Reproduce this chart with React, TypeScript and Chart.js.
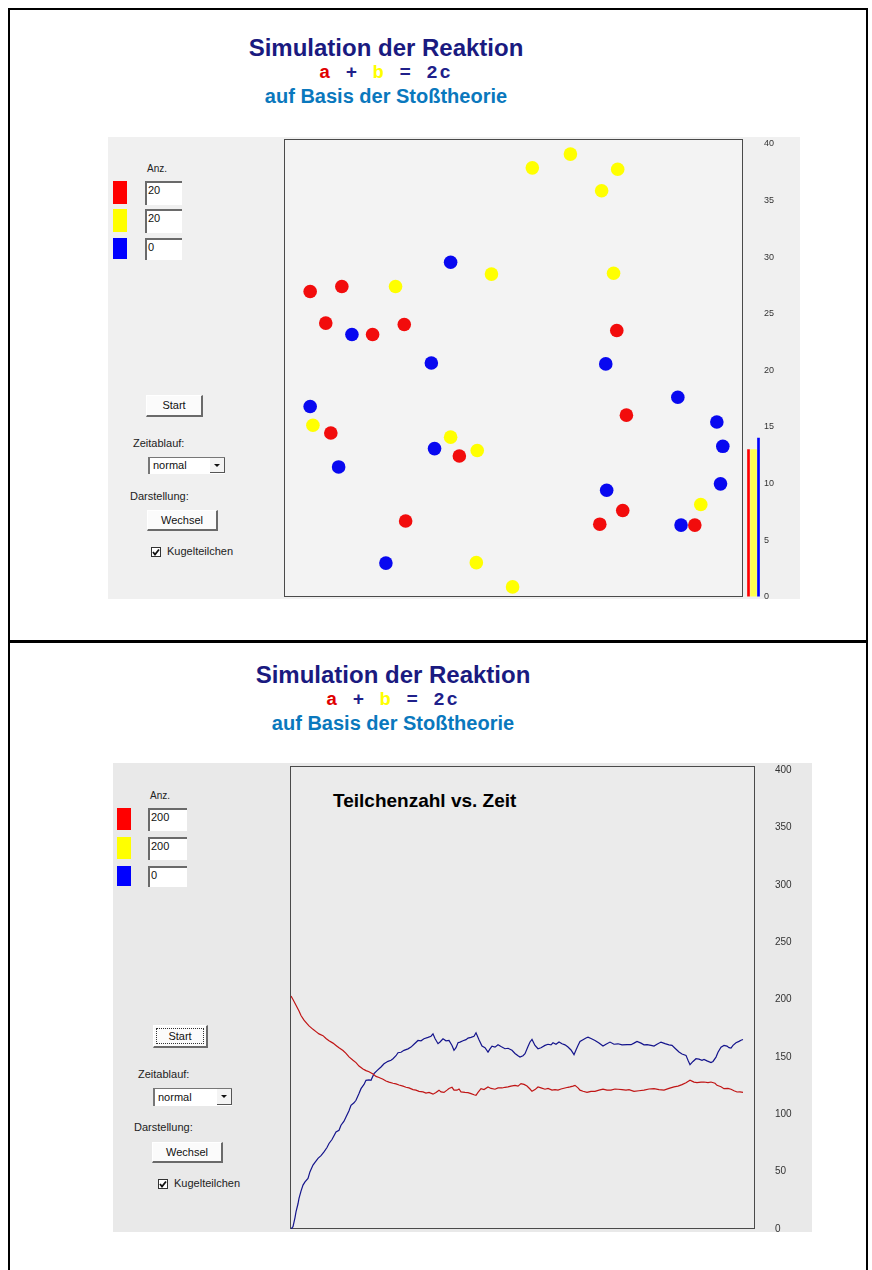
import React, { useEffect, useRef } from "react";
import { Chart, registerables } from "chart.js";
Chart.register(...registerables);

// ---------- Data: particle positions (box units 0..100) ----------
const redPX = [5.7, 12.6, 9.1, 19.3, 26.2, 72.5, 74.6, 10.2, 38.2, 26.5, 68.8, 73.8, 89.5];
const redPY = [66.7, 67.8, 59.8, 57.3, 59.5, 58.2, 39.7, 35.8, 30.8, 16.6, 15.9, 18.9, 15.7];
const yellowPX = [54.1, 62.4, 72.7, 69.2, 24.3, 45.2, 71.8, 6.3, 36.3, 42.1, 41.9, 49.8, 90.8];
const yellowPY = [93.7, 96.7, 93.4, 88.7, 67.8, 70.5, 70.7, 37.5, 34.9, 32.0, 7.5, 2.2, 20.2];
const bluePX = [36.3, 14.8, 32.1, 70.1, 5.7, 11.9, 32.8, 85.8, 94.3, 95.6, 95.1, 70.3, 86.5, 22.2];
const bluePY = [73.1, 57.3, 51.1, 50.9, 41.6, 28.4, 32.4, 43.6, 38.2, 32.9, 24.7, 23.3, 15.7, 7.4];

// ---------- Data: particle count bars ----------
const barLabels = ["a", "b", "c"];
const barCounts = [13, 13, 14];
const barColors = ["#ff0000", "#ffff50", "#0000ff"];
const barWidths = [2, 6, 2];

// ---------- Data: particle count vs. time ----------
const redT = [0, 2, 5, 8, 10, 13, 16, 18, 22, 25, 28, 32, 35, 38, 42, 45, 48, 52, 55, 58, 62, 65, 68, 72, 75, 78, 82, 85, 88, 92, 95, 98, 102, 105, 108, 112, 115, 118, 122, 125, 128, 132, 135, 138, 142, 145, 148, 150, 153, 156, 158, 161, 163, 166, 168, 170, 174, 177, 180, 183, 185, 187, 190, 193, 197, 200, 204, 207, 211, 214, 217, 220, 224, 227, 230, 233, 236, 239, 241, 244, 247, 250, 254, 257, 261, 264, 267, 270, 274, 277, 279, 282, 284, 287, 289, 292, 296, 300, 304, 308, 312, 316, 320, 324, 327, 331, 335, 338, 343, 348, 353, 358, 363, 368, 373, 378, 383, 387, 391, 395, 399, 403, 406, 410, 413, 417, 420, 424, 426, 430, 433, 437, 440, 443, 446, 449, 452];
const redN = [203, 200, 195, 190, 186, 182, 179, 177, 174, 172, 170, 168.5, 166, 164, 162, 160, 158, 155.5, 153, 150, 147, 145, 142, 139.5, 138, 137, 135, 133, 132, 130.5, 129, 128, 127, 126.5, 125.5, 124.5, 123.5, 123, 121.5, 121, 120, 119.5, 118.5, 119, 117.5, 119, 121, 119.5, 119, 121, 122.5, 123.5, 121, 121, 122, 119.5, 119, 118.8, 118, 117, 116.5, 119, 122.3, 121.5, 123.8, 122.5, 121.8, 123, 122.9, 123.5, 123.8, 124.5, 125.2, 124.5, 126.7, 126, 124.6, 122, 120, 121.5, 123.8, 123, 121.8, 122.5, 121, 121.5, 121, 122, 122.9, 123.5, 123.8, 124.5, 125.2, 123, 121, 120, 119, 120, 120, 121, 121.8, 121, 121, 122, 121.8, 121.5, 121, 121.5, 120, 120.5, 121, 122, 122.3, 121.5, 121, 122.5, 123.8, 124.5, 125.8, 127.5, 129.6, 128, 127.5, 128, 128.1, 127.5, 128.1, 127, 125.2, 124, 122.3, 122.5, 121.8, 120.5, 119.4, 119.5, 119];
const blueT = [0, 2, 4, 5, 7, 8, 10, 12, 14, 17, 19, 22, 24, 27, 30, 33, 36, 38, 41, 45, 48, 50, 53, 55, 58, 60, 63, 65, 68, 70, 73, 75, 78, 80, 83, 86, 90, 93, 97, 100, 102, 105, 107, 110, 113, 117, 120, 123, 127, 130, 133, 137, 140, 142, 144, 147, 149, 152, 155, 158, 161, 163, 165, 167, 169, 172, 175, 177, 180, 183, 185, 188, 191, 194, 197, 199, 201, 204, 207, 210, 214, 217, 221, 224, 227, 229, 232, 234, 237, 239, 241, 244, 247, 250, 254, 257, 260, 262, 265, 268, 271, 274, 277, 280, 283, 285, 287, 289, 292, 295, 297, 300, 304, 308, 312, 315, 319, 323, 327, 331, 336, 340, 343, 346, 350, 353, 356, 360, 363, 366, 370, 374, 378, 381, 384, 388, 391, 395, 397, 399, 402, 405, 408, 411, 413, 416, 420, 422, 425, 427, 430, 433, 436, 438, 440, 442, 445, 448, 450, 452];
const blueN = [0, 2, 10, 15, 22, 26.7, 33, 38.3, 41, 44, 50, 55.7, 58, 61.5, 64, 67.2, 71, 74.5, 78, 84.6, 86, 90.4, 94, 97.7, 103, 107.8, 110, 112.2, 118, 122.3, 126, 129.6, 130, 129.6, 135.4, 138, 141.2, 144, 146.1, 147, 148.4, 151, 153.6, 154, 155.7, 157, 158.5, 161, 164.3, 164, 165.8, 167, 168, 170.1, 166, 161.5, 163, 165.8, 164, 164.3, 160, 155.7, 158, 162.3, 162.9, 164, 165, 166.4, 167, 168, 171, 165, 159.4, 158, 154.2, 157, 159.4, 158.5, 160.6, 159, 157.1, 157.5, 155.7, 153, 151, 149.8, 151, 152.8, 159, 163, 165.2, 160, 157.1, 158, 160, 161, 160.5, 162.3, 161, 163, 161.4, 160.5, 158.6, 156, 151.9, 156, 160, 163.5, 165, 166.5, 167.2, 166, 164.3, 162, 159.4, 161, 162.9, 161, 161.4, 160.5, 160.6, 160.6, 162, 163.5, 162, 160.5, 160.6, 160, 159.4, 161, 162.9, 161.5, 160.5, 160, 157.5, 154.2, 152.5, 151.3, 147, 143.2, 146, 148.4, 148, 147, 147.8, 146.5, 145, 146, 149.8, 154, 158.5, 160, 159.4, 158, 157.7, 160, 162.3, 163.5, 164.5, 165.2];

const topTickMax = 40;
const topTickStep = 5;
const bottomTickMax = 400;
const bottomTickStep = 50;

const UI = "'Liberation Sans', Arial, sans-serif";

function ChartBox(props: { config: any; left: number; top: number; width: number; height: number }) {
  const ref = useRef<HTMLCanvasElement>(null);
  useEffect(() => {
    const chart = new Chart(ref.current as HTMLCanvasElement, props.config);
    return () => chart.destroy();
  }, []);
  return (
    <canvas
      ref={ref}
      width={props.width}
      height={props.height}
      style={{ position: "absolute", left: props.left, top: props.top, width: props.width, height: props.height, display: "block" }}
    />
  );
}

const commonOpts = {
  animation: false,
  responsive: false,
  events: [],
  plugins: { legend: { display: false }, tooltip: { enabled: false }, title: { display: false } },
};

function pts(xs: number[], ys: number[]) {
  return xs.map((x, i) => ({ x, y: ys[i] }));
}

const scatterConfig = {
  type: "scatter",
  data: {
    datasets: [
      { data: pts(redPX, redPY), backgroundColor: "#f20c0c" },
      { data: pts(yellowPX, yellowPY), backgroundColor: "#ffff00" },
      { data: pts(bluePX, bluePY), backgroundColor: "#0808f0" },
    ].map((d) => ({ ...d, pointRadius: 6.8, pointBorderWidth: 0, borderWidth: 0 })),
  },
  options: {
    ...commonOpts,
    layout: { padding: 0, autoPadding: false },
    scales: {
      x: { type: "linear", min: 0, max: 100, display: false },
      y: { type: "linear", min: 0, max: 100, display: false },
    },
  },
};

const barConfig = {
  type: "bar",
  data: {
    labels: barLabels,
    datasets: barCounts.map((v, i) => ({
      data: barCounts.map((_, j) => (j === i ? v : null)),
      backgroundColor: barColors[i],
      barThickness: barWidths[i],
      skipNull: true,
    })),
  },
  options: {
    ...commonOpts,
    layout: { padding: { left: 2, top: 10, right: 0, bottom: 0 }, autoPadding: false },
    scales: {
      x: { display: false },
      y: {
        position: "right",
        min: 0,
        max: topTickMax,
        ticks: { stepSize: topTickStep, padding: 3, color: "#333", font: { family: UI, size: 9 } },
        grid: { display: false, drawTicks: false },
        border: { display: false },
        afterFit: (s: any) => {
          s.width = 39;
        },
      },
    },
  },
};

const lineConfig = {
  type: "line",
  data: {
    datasets: [
      { data: pts(redT, redN), borderColor: "#c01515", borderWidth: 1.2 },
      { data: pts(blueT, blueN), borderColor: "#14148c", borderWidth: 1.2 },
    ].map((d) => ({ ...d, pointRadius: 0, tension: 0, fill: false })),
  },
  options: {
    ...commonOpts,
    layout: { padding: { left: 0, top: 10, right: 0, bottom: 0 }, autoPadding: false },
    scales: {
      x: { type: "linear", min: 0, max: 463, display: false },
      y: {
        position: "right",
        min: 0,
        max: bottomTickMax,
        ticks: { stepSize: bottomTickStep, padding: 1, color: "#333", font: { family: UI, size: 10 } },
        grid: { display: false, drawTicks: true, tickLength: 20 },
        border: { display: false },
        afterFit: (s: any) => {
          s.width = 58;
        },
      },
    },
  },
};

function Abs(props: { l: number; t: number; w?: number; h?: number; style?: any; children?: any }) {
  return (
    <div style={{ position: "absolute", left: props.l, top: props.t, width: props.w, height: props.h, ...props.style }}>
      {props.children}
    </div>
  );
}

function Label(props: { l: number; t: number; text: string; size?: number }) {
  return (
    <Abs l={props.l} t={props.t} style={{ font: `${props.size || 11}px ${UI}`, color: "#222", whiteSpace: "nowrap", lineHeight: "13px" }}>
      {props.text}
    </Abs>
  );
}

function Button(props: { l: number; t: number; w: number; h: number; text: string; focus?: boolean }) {
  return (
    <Abs
      l={props.l}
      t={props.t}
      w={props.w}
      h={props.h}
      style={{
        boxSizing: "border-box",
        background: "#fbfbfb",
        borderTop: "1px solid #ffffff",
        borderLeft: "1px solid #ffffff",
        borderRight: "2px solid #6a6a6a",
        borderBottom: "2px solid #6a6a6a",
        font: `11px ${UI}`,
        color: "#111",
        textAlign: "center",
        lineHeight: `${props.h - 3}px`,
      }}
    >
      {props.focus ? (
        <div style={{ position: "absolute", left: 2, top: 2, right: 2, bottom: 2, border: "1px dotted #333", lineHeight: `${props.h - 9}px` }}>
          {props.text}
        </div>
      ) : (
        props.text
      )}
    </Abs>
  );
}

function TextBox(props: { l: number; t: number; w: number; h: number; text: string }) {
  return (
    <Abs
      l={props.l}
      t={props.t}
      w={props.w}
      h={props.h}
      style={{
        boxSizing: "border-box",
        background: "#ffffff",
        borderTop: "2px solid #6a6a6a",
        borderLeft: "2px solid #6a6a6a",
        font: `11px ${UI}`,
        color: "#111",
        paddingLeft: 1,
        lineHeight: "15px",
      }}
    >
      {props.text}
    </Abs>
  );
}

function Select(props: { l: number; t: number; w: number; h: number }) {
  return (
    <Abs
      l={props.l}
      t={props.t}
      w={props.w}
      h={props.h}
      style={{
        boxSizing: "border-box",
        background: "#ffffff",
        borderTop: "1px solid #777",
        borderLeft: "2px solid #777",
        font: `11px ${UI}`,
        color: "#111",
        paddingLeft: 3,
        lineHeight: `${props.h - 2}px`,
      }}
    >
      normal
      <div
        style={{
          position: "absolute",
          right: 0,
          top: 0,
          width: 15,
          height: props.h - 2,
          borderRight: "1px solid #555",
          borderBottom: "1px solid #555",
          boxSizing: "border-box",
          background: "#f4f4f4",
        }}
      >
        <div style={{ position: "absolute", left: 4, top: 6, width: 0, height: 0, borderLeft: "3px solid transparent", borderRight: "3px solid transparent", borderTop: "3px solid #111" }} />
      </div>
    </Abs>
  );
}

function CheckBox(props: { l: number; t: number; text: string }) {
  return (
    <>
      <Abs l={props.l} t={props.t} w={10} h={10} style={{ boxSizing: "border-box", border: "1px solid #333", background: "#fff" }}>
        <svg width="8" height="8" style={{ position: "absolute", left: 0, top: 0 }}>
          <path d="M1 4 L3 6.5 L7 1.5" stroke="#111" strokeWidth="1.8" fill="none" />
        </svg>
      </Abs>
      <Label l={props.l + 16} t={props.t - 2} text={props.text} />
    </>
  );
}

function Header(props: { cx: number; t: number }) {
  const w = 460;
  return (
    <>
      <Abs l={props.cx - w / 2} t={props.t} w={w} style={{ textAlign: "center", font: `bold 24px ${UI}`, color: "#1a1a80", lineHeight: "26px" }}>
        Simulation der Reaktion
      </Abs>
      <Abs
        l={props.cx - w / 2}
        t={props.t + 27}
        w={w}
        style={{ textAlign: "center", font: `bold 19px 'Liberation Mono', 'Courier New', monospace`, color: "#20208a", lineHeight: "22px", letterSpacing: "2px", whiteSpace: "pre" }}
      >
        <span style={{ color: "#e00000" }}>a</span>
        {" + "}
        <span style={{ color: "#ffff00" }}>b</span>
        {" = 2c"}
      </Abs>
      <Abs l={props.cx - w / 2} t={props.t + 50} w={w} style={{ textAlign: "center", font: `bold 20px ${UI}`, color: "#0a78bd", lineHeight: "22px" }}>
        auf Basis der Stoßtheorie
      </Abs>
    </>
  );
}

function Controls(props: { sqL: number; boxL: number; anzT: number; rows: number[]; rowH: number[]; values: string[]; boxW: number }) {
  const cols = ["#ff0000", "#ffff00", "#0000ff"];
  return (
    <>
      <Label l={props.boxL + 2} t={props.anzT} text="Anz." size={10} />
      {props.rows.map((t, i) => (
        <React.Fragment key={i}>
          <Abs l={props.sqL} t={t} w={14} h={props.rowH[i]} style={{ background: cols[i] }} />
          <TextBox l={props.boxL} t={t} w={props.boxW} h={props.rowH[i] + 1} text={props.values[i]} />
        </React.Fragment>
      ))}
    </>
  );
}

export default function App() {
  return (
    <div style={{ position: "absolute", left: 0, top: 0, width: 872, height: 1270, overflow: "hidden", background: "#ffffff" }}>
      {/* frame */}
      <Abs l={8} t={8} w={860} h={1270} style={{ boxSizing: "border-box", border: "2px solid #000" }} />
      <Abs l={8} t={640} w={860} h={3} style={{ background: "#000" }} />

      {/* ---------- TOP PANEL ---------- */}
      <Header cx={386} t={35} />
      <Abs l={108} t={137} w={692} h={462} style={{ background: "#f0f0f0" }} />
      <Controls sqL={113} boxL={145} anzT={162} rows={[181, 209, 238]} rowH={[23, 23, 21]} values={["20", "20", "0"]} boxW={37} />
      <Button l={146} t={395} w={57} h={22} text="Start" />
      <Label l={133} t={437} text="Zeitablauf:" />
      <Select l={148} t={457} w={77} h={17} />
      <Label l={130} t={490} text="Darstellung:" />
      <Button l={147} t={510} w={71} h={21} text="Wechsel" />
      <CheckBox l={151} t={547} text="Kugelteilchen" />
      <Abs l={284} t={139} w={459} h={458} style={{ boxSizing: "border-box", border: "1px solid #4a4a4a", background: "#f3f3f3" }} />
      <ChartBox config={scatterConfig} left={284} top={139} width={459} height={458} />
      <ChartBox config={barConfig} left={744} top={134} width={56} height={471} />

      {/* ---------- BOTTOM PANEL ---------- */}
      <Header cx={393} t={662} />
      <Abs l={113} t={763} w={699} h={469} style={{ background: "#e9e9e9" }} />
      <Controls sqL={117} boxL={148} anzT={789} rows={[808, 837, 866]} rowH={[22, 22, 20]} values={["200", "200", "0"]} boxW={39} />
      <Button l={153} t={1025} w={55} h={23} text="Start" focus />
      <Label l={138} t={1068} text="Zeitablauf:" />
      <Select l={153} t={1088} w={79} h={18} />
      <Label l={134} t={1121} text="Darstellung:" />
      <Button l={152} t={1142} w={71} h={21} text="Wechsel" />
      <CheckBox l={158} t={1179} text="Kugelteilchen" />
      <Abs l={290} t={766} w={465} h={463} style={{ boxSizing: "border-box", border: "1px solid #4a4a4a", background: "#ebebeb" }} />
      <Abs l={333} t={790} style={{ font: `bold 19px ${UI}`, color: "#000", whiteSpace: "nowrap", lineHeight: "21px" }}>
        Teilchenzahl vs. Zeit
      </Abs>
      <ChartBox config={lineConfig} left={291} top={760} width={521} height={476} />
    </div>
  );
}
